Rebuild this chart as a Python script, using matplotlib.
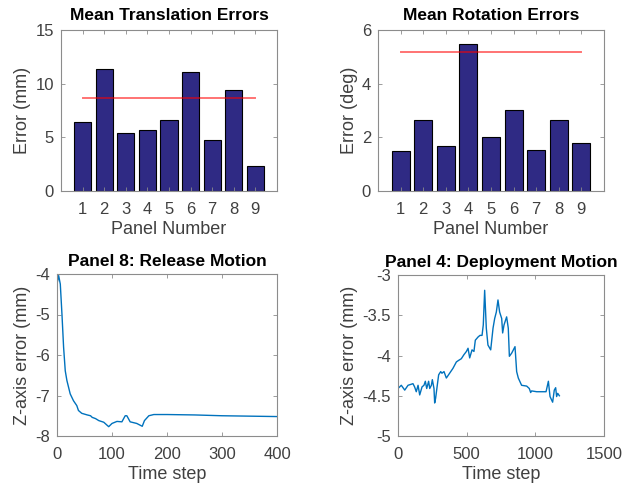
import matplotlib
matplotlib.use('Agg')

import matplotlib.pyplot as plt
import numpy as np

plt.rcParams['font.family'] = ['Liberation Sans', 'DejaVu Sans']
plt.rcParams['axes.unicode_minus'] = False

# bar data
panels = [1, 2, 3, 4, 5, 6, 7, 8, 9]
trans_err = [6.44, 11.33, 5.45, 5.70, 6.60, 11.11, 4.76, 9.37, 2.30]
trans_ref = 8.62
rot_err = [1.49, 2.63, 1.67, 5.49, 2.00, 3.03, 1.52, 2.63, 1.78]
rot_ref = 5.19

# panel 8 release motion
rel_t = [0, 3, 6, 9, 12, 15, 18, 24, 30, 36, 39, 45, 55, 61, 64, 70, 76, 85,
         94, 100, 109, 118, 124, 127, 133, 145, 155, 159, 167, 176, 200, 250,
         300, 350, 400]
rel_z = [-4.25, -4.04, -4.25, -4.99, -5.81, -6.39, -6.63, -6.96, -7.13, -7.25,
         -7.37, -7.44, -7.48, -7.50, -7.54, -7.57, -7.62, -7.66, -7.77, -7.69,
         -7.64, -7.65, -7.50, -7.50, -7.65, -7.69, -7.76, -7.62, -7.50, -7.47,
         -7.47, -7.48, -7.50, -7.51, -7.52]

# panel 4 deployment motion
dep_t = [0, 24, 49, 73, 109, 121, 133, 146, 158, 175, 189, 199, 209, 223, 231,
         243, 250, 262, 267, 274, 286, 296, 311, 320, 335, 352, 376, 400, 425,
         442, 461, 480, 498, 510, 522, 539, 553, 563, 583, 597, 612, 621, 631,
         643, 655, 675, 692, 704, 716, 728, 740, 755, 762, 772, 791, 803, 811,
         828, 852, 864, 876, 900, 937, 956, 966, 973, 1010, 1078, 1095, 1107,
         1126, 1138, 1148, 1155, 1163, 1175]
dep_z = [-4.41, -4.37, -4.43, -4.37, -4.35, -4.39, -4.45, -4.37, -4.49, -4.39,
         -4.37, -4.32, -4.41, -4.32, -4.41, -4.37, -4.30, -4.41, -4.59, -4.53,
         -4.37, -4.24, -4.20, -4.22, -4.20, -4.28, -4.22, -4.16, -4.08, -4.06,
         -4.04, -3.99, -3.95, -3.91, -4.03, -3.93, -3.95, -3.81, -3.77, -3.75,
         -3.75, -3.62, -3.19, -3.66, -3.87, -3.93, -3.66, -3.54, -3.46, -3.31,
         -3.46, -3.54, -3.72, -3.62, -3.52, -3.66, -4.01, -3.97, -3.89, -4.20,
         -4.28, -4.37, -4.38, -4.41, -4.46, -4.44, -4.45, -4.45, -4.32, -4.51,
         -4.58, -4.43, -4.40, -4.51, -4.47, -4.50]

bar_color = '#2f2a84'
line_color = '#0072BD'
axis_gray = '#404040'

fig = plt.figure(figsize=(6.31, 4.87), dpi=100)
W, H = 631.0, 487.0


def make_ax(l, r, t, b):
    return fig.add_axes([l / W, 1 - b / H, (r - l) / W, (b - t) / H])


def style(ax):
    for s in ax.spines.values():
        s.set_color('#8c8c8c')
        s.set_linewidth(0.8)
    ax.tick_params(direction='in', top=True, right=True, length=3,
                   width=0.6, colors='#8c8c8c', labelcolor=axis_gray,
                   labelsize=12)
    ax.tick_params(axis='x', pad=8)
    ax.tick_params(axis='y', pad=5)


def labels(ax, title, xl, yl, tpad=6):
    ax.set_title(title, fontsize=12.5, fontweight='bold', pad=tpad)
    ax.set_xlabel(xl, fontsize=13, color=axis_gray, labelpad=3)
    ax.set_ylabel(yl, fontsize=13, color=axis_gray, labelpad=3)


ax1 = make_ax(61, 277, 30, 191)
ax2 = make_ax(378, 604, 30, 191)
ax3 = make_ax(57, 277, 274, 436)
ax4 = make_ax(398, 604, 275, 436)

ax1.bar(panels, trans_err, width=0.8, color=bar_color, edgecolor='black', linewidth=0.8)
ax1.plot([panels[0], panels[-1]], [trans_ref, trans_ref], color='red', alpha=0.55, lw=1.4)
ax1.set_xlim(0, 10)
ax1.set_ylim(0, 15)
ax1.set_xticks(panels)
ax1.set_yticks([0, 5, 10, 15])
labels(ax1, 'Mean Translation Errors', 'Panel Number', 'Error (mm)', tpad=7.5)

ax2.bar(panels, rot_err, width=0.8, color=bar_color, edgecolor='black', linewidth=0.8)
ax2.plot([panels[0], panels[-1]], [rot_ref, rot_ref], color='red', alpha=0.55, lw=1.4)
ax2.set_xlim(0, 10)
ax2.set_ylim(0, 6)
ax2.set_xticks(panels)
ax2.set_yticks([0, 2, 4, 6])
labels(ax2, 'Mean Rotation Errors', 'Panel Number', 'Error (deg)', tpad=7.5)

ax3.plot(rel_t, rel_z, color=line_color, lw=1.0)
ax3.set_xlim(0, 400)
ax3.set_ylim(-8, -4)
ax3.set_xticks([0, 100, 200, 300, 400])
ax3.set_yticks([-8, -7, -6, -5, -4])
labels(ax3, 'Panel 8: Release Motion', 'Time step', 'Z-axis error (mm)')

ax4.plot(dep_t, dep_z, color=line_color, lw=1.0)
ax4.set_xlim(0, 1500)
ax4.set_ylim(-5, -3)
ax4.set_xticks([0, 500, 1000, 1500])
ax4.set_yticks([-5, -4.5, -4, -3.5, -3])
ax4.set_yticklabels(['-5', '-4.5', '-4', '-3.5', '-3'])
labels(ax4, 'Panel 4: Deployment Motion', 'Time step', 'Z-axis error (mm)')

for a in (ax1, ax2, ax3, ax4):
    style(a)

fig.savefig('out.png', dpi=100)
